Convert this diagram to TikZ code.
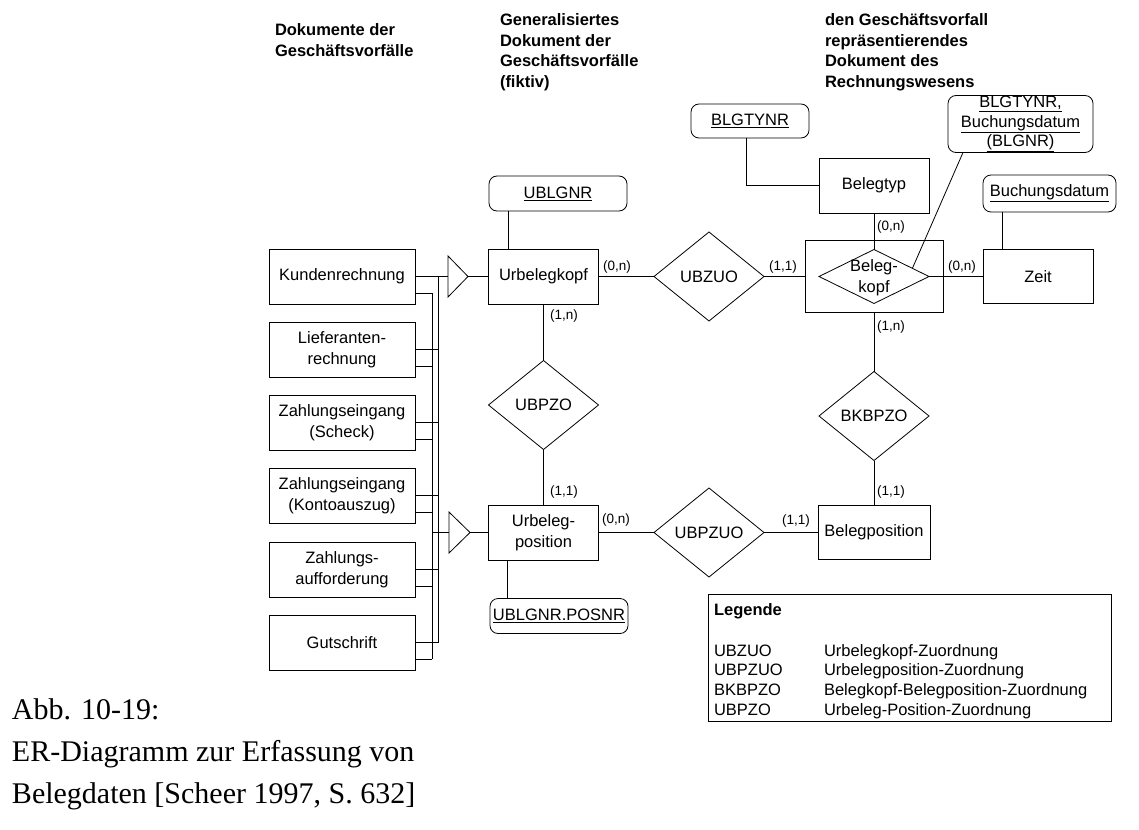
\documentclass[tikz,border=0pt]{standalone}
\usepackage{fontspec}
\setmainfont{Liberation Sans}
\newfontfamily\capfont{Liberation Serif}
\usetikzlibrary{shapes.geometric}
\begin{document}
\begin{tikzpicture}[x=1pt,y=-1pt,
  every node/.style={inner sep=0pt, outer sep=0pt},
  txt/.style={font=\fontsize{16.5}{20.5}\selectfont},
  ent/.style={txt, draw, line width=0.8pt, minimum width=110pt, minimum height=55pt, align=center},
  doc/.style={ent, minimum width=146pt},
  rel/.style={txt, draw, diamond, line width=0.8pt, minimum width=110pt, minimum height=89pt},
  attr/.style={draw, rounded corners=8pt, line width=0.8pt, minimum height=35pt, align=center, font=\fontsize{16.5}{19.5}\selectfont},
  card/.style={anchor=west, font=\fontsize{13.5}{16}\selectfont},
  con/.style={line width=0.8pt},
  head/.style={anchor=north west, align=left, font=\fontsize{16.5}{20.4}\selectfont\bfseries},
  legtxt/.style={txt, anchor=base west},
]
\useasboundingbox (0,0) rectangle (1139,829);

% headers
\node[head] (h1) at (275,24) {Dokumente der\\Geschäftsvorfälle};
\node[head] (h2) at (500,14) {Generalisiertes\\Dokument der\\Geschäftsvorfälle\\(fiktiv)};
\node[head] (h3) at (825,14) {den Geschäftsvorfall\\repräsentierendes\\Dokument des\\Rechnungswesens};

% document boxes
\node[doc] (d1) at (342,276.5) {Kundenrechnung};
\node[doc] (d2) at (342,349.5) {Lieferanten-\\rechnung};
\node[doc] (d3) at (342,422.5) {Zahlungseingang\\(Scheck)};
\node[doc] (d4) at (342,495.5) {Zahlungseingang\\(Kontoauszug)};
\node[doc] (d5) at (342,569.5) {Zahlungs-\\aufforderung};
\node[doc] (d6) at (342,642.5) {Gutschrift};

% buses
\coordinate (busAtop) at (438,276.5);
\coordinate (busAbot) at (438,642.5);
\coordinate (busBtop) at (432,293);
\coordinate (busBbot) at (432,659);
\foreach \d in {d1,d2,d3,d4,d5,d6}{
  \draw[con] (\d.east) -- (\d.east -| busAtop);
  \draw[con] ([yshift=-16.5pt]\d.east) -- ([yshift=-16.5pt]\d.east -| busBtop);
}
\draw[con] (busAtop) -- (busAbot);
\draw[con] (busBtop) -- (busBbot);

% generalisation triangles
\coordinate (t1b) at (448,276.5);
\coordinate (t1a) at (468,276.5);
\draw[con] (448,256) -- (t1a) -- (448,297) -- cycle;
\coordinate (t2b) at (449,532.5);
\coordinate (t2a) at (470,532.5);
\draw[con] (449,512) -- (t2a) -- (449,553) -- cycle;

% entities
\node[ent] (ubk) at (543.5,276.5) {Urbelegkopf};
\node[ent] (ubpos) at (543.5,532.5) {Urbeleg-\\position};
\node[ent] (belegtyp) at (874,185.5) {Belegtyp};
\node[ent, minimum height=54pt] (zeit) at (1038,276.5) {Zeit};
\node[ent, minimum width=112pt, minimum height=54pt] (belpos) at (874,532.5) {Belegposition};
\node[draw, line width=0.8pt, minimum width=138pt, minimum height=72pt] (bkbox) at (874,276.5) {};
\node[draw, diamond, line width=0.8pt, minimum width=110pt, minimum height=54pt] (bkdia) at (874,276.5) {};
\node[txt, align=center] (bktext) at (874,277.5) {Beleg-\\kopf};

% relationships
\node[rel] (ubzuo) at (709,276.5) {UBZUO};
\node[rel] (ubpzo) at (543.5,405) {UBPZO};
\node[rel] (bkbpzo) at (874,416) {BKBPZO};
\node[rel] (ubpzuo) at (709,532.5) {UBPZUO};

% attributes
\node[attr, minimum width=138pt] (ublgnr) at (558,193.5) {\underline{UBLGNR}};
\node[attr, minimum width=138pt] (ublgpos) at (559,616) {\underline{UBLGNR.POSNR}};
\node[attr, minimum width=118pt, minimum height=34pt] (blgtynr) at (750,121) {\underline{BLGTYNR}};
\node[attr, minimum width=145pt, minimum height=57pt] (blgkey) at (1020.5,124) {\underline{BLGTYNR,}\\\underline{Buchungsdatum}\\\underline{(BLGNR)}};
\node[attr, minimum width=133pt, minimum height=37pt] (buchd) at (1049.5,193.5) {\underline{Buchungsdatum}};

% connectors
\draw[con] (busAtop) -- (t1b);
\draw[con] (t1a) -- (ubk.west);
\draw[con] (t2b -| busBtop) -- (t2b);
\draw[con] (t2a) -- (ubpos.west);
\draw[con] (ubk.east) -- (ubzuo.west);
\draw[con] (ubzuo.east) -- (bkbox.west);
\draw[con] (belegtyp.south) -- (bkdia.north);
\draw[con] (bkdia.east) -- (zeit.west);
\draw[con] (bkbox.south) -- (bkbpzo.north);
\draw[con] (bkbpzo.south) -- (belpos.north);
\draw[con] (ubpos.east) -- (ubpzuo.west);
\draw[con] (ubpzuo.east) -- (belpos.west);
\draw[con] (ubk.south) -- (ubpzo.north);
\draw[con] (ubpzo.south) -- (ubpos.north);
\draw[con] ([xshift=20pt]ubk.north west) -- ([xshift=20pt]ubk.north west |- ublgnr.south);
\draw[con] ([xshift=19pt]ubpos.south west) -- ([xshift=19pt]ubpos.south west |- ublgpos.north);
\draw[con] ([xshift=-4pt]blgtynr.south) |- (belegtyp.west);
\draw[con] ([xshift=19pt]zeit.north west) -- ([xshift=19pt]zeit.north west |- buchd.south);
\draw[con] ([xshift=15pt]blgkey.south west) -- (bkdia.12);

% cardinalities
\node[card] (c1) at (603,267) {(0,n)};
\node[card] (c2) at (769,267) {(1,1)};
\node[card] (c3) at (877,227) {(0,n)};
\node[card] (c4) at (948,267) {(0,n)};
\node[card] (c5) at (550,316) {(1,n)};
\node[card] (c6) at (550,492) {(1,1)};
\node[card] (c7) at (602,520) {(0,n)};
\node[card] (c8) at (782,521) {(1,1)};
\node[card] (c9) at (877,327) {(1,n)};
\node[card] (c10) at (877,492) {(1,1)};

% legend
\node[draw, line width=0.8pt, minimum width=403pt, minimum height=127pt, anchor=north west] (leg) at (708,594) {};
\node[legtxt, font=\fontsize{16.5}{20.5}\selectfont\bfseries] (legt) at (714,615) {Legende};
\node[legtxt] (la1) at (714,656) {UBZUO};
\node[legtxt] (la2) at (714,675.5) {UBPZUO};
\node[legtxt] (la3) at (714,695) {BKBPZO};
\node[legtxt] (la4) at (714,715) {UBPZO};
\node[legtxt] (lb1) at (824,656) {Urbelegkopf-Zuordnung};
\node[legtxt] (lb2) at (824,675.5) {Urbelegposition-Zuordnung};
\node[legtxt] (lb3) at (824,695) {Belegkopf-Belegposition-Zuordnung};
\node[legtxt] (lb4) at (824,715) {Urbeleg-Position-Zuordnung};

% caption
\node[anchor=north west, align=left, font=\capfont\fontsize{30}{42}\selectfont] (cap) at (12,699) {Abb. 10-19:\\ER-Diagramm zur Erfassung von\\Belegdaten [Scheer 1997, S. 632]};
\end{tikzpicture}
\end{document}
